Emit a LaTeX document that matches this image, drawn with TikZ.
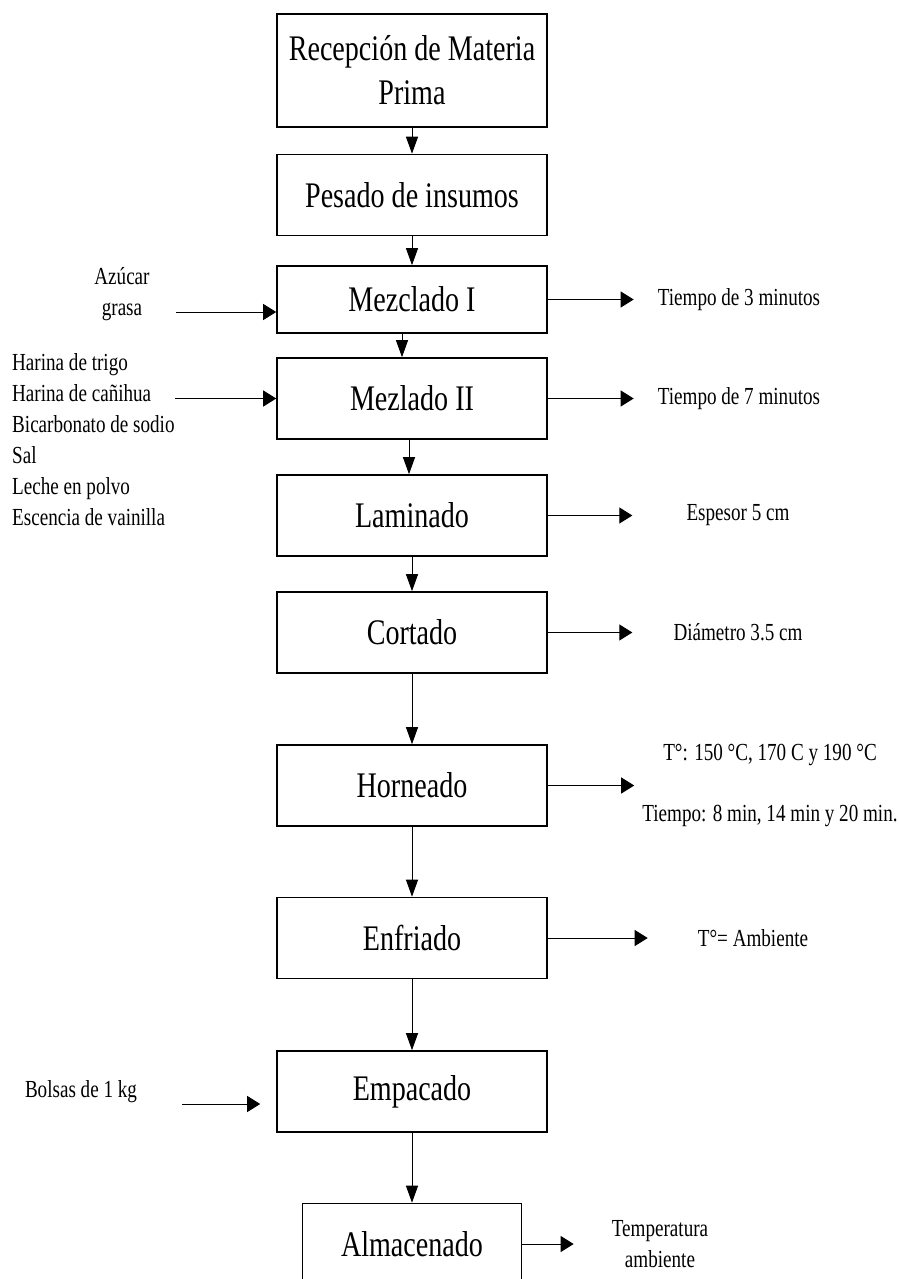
\documentclass[tikz,border=0pt]{standalone}
\usepackage{fontspec}
\setmainfont{Liberation Serif}[FakeStretch=0.78]
\usetikzlibrary{arrows.meta}

\tikzset{
  caja/.style={rectangle, draw, line width=1.6pt, minimum width=270pt, minimum height=81pt, inner sep=2pt, align=center, font=\fontsize{36}{44}\selectfont},
  nota/.style={align=center, inner sep=0pt, font=\fontsize{24.5}{31}\selectfont},
  flecha/.style={-{Triangle[length=17pt,width=12pt]}, line width=1pt},
  flecha-h/.style={-{Triangle[length=13pt,width=16pt]}, line width=1pt},
}

\begin{document}
\begin{tikzpicture}[x=1pt, y=-1pt]
  \useasboundingbox (0,0) rectangle (899,1279);

  % etapas del proceso
  \node(proc-1)[caja, minimum height=113pt] at (412,70.5) {Recepción de Materia\\Prima};
  \node(proc-2)[caja, node distance=124.5pt, below of=proc-1] {Pesado de insumos};
  \node(proc-3)[caja, minimum height=67pt, node distance=104.5pt, below of=proc-2] {Mezclado I};
  \node(proc-4)[caja, node distance=99pt, below of=proc-3] {Mezlado II};
  \node(proc-5)[caja, node distance=117pt, below of=proc-4] {Laminado};
  \node(proc-6)[caja, node distance=117pt, below of=proc-5] {Cortado};
  \node(proc-7)[caja, node distance=153pt, below of=proc-6] {Horneado};
  \node(proc-8)[caja, node distance=152.5pt, below of=proc-7] {Enfriado};
  \node(proc-9)[caja, node distance=153.5pt, below of=proc-8] {Empacado};
  \node(proc-10)[caja, minimum width=219pt, node distance=152.5pt, below of=proc-9] {Almacenado};

  % entradas
  \node(insumo-1)[nota] at (122,294) {Azúcar\\grasa};
  \node(insumo-2)[nota, align=left, anchor=west] at (12,440) {Harina de trigo\\Harina de cañihua\\Bicarbonato de sodio\\Sal\\Leche en polvo\\Escencia de vainilla};
  \node(insumo-3)[nota] at (81,1092) {Bolsas de 1 kg};
  \coordinate(in-1) at (176,312);
  \coordinate(in-3) at (182,1104);

  % datos de salida
  \node(dato-3)[nota, node distance=327pt, right of=proc-3] {Tiempo de 3 minutos};
  \node(dato-4)[nota, node distance=327pt, right of=proc-4] {Tiempo de 7 minutos};
  \node(dato-5)[nota, node distance=326pt, right of=proc-5] {Espesor 5 cm};
  \node(dato-6)[nota, node distance=326pt, right of=proc-6] {Diámetro 3.5 cm};
  \node(dato-7)[nota, node distance=358pt, right of=proc-7] {T°: 150 °C, 170 C y 190 °C\\[30pt]Tiempo: 8 min, 14 min y 20 min.};
  \node(dato-8)[nota, node distance=341pt, right of=proc-8] {T°= Ambiente};
  \node(dato-10)[nota, node distance=248pt, right of=proc-10] {Temperatura\\ambiente};

  \draw[flecha] (proc-1) -- (proc-2);
  \draw[flecha] (proc-2) -- (proc-3);
  \draw[flecha] ([xshift=-10pt]proc-3.south) -- ([xshift=-10pt]proc-4.north);
  \draw[flecha] ([xshift=-3pt]proc-4.south) -- ([xshift=-3pt]proc-5.north);
  \draw[flecha] (proc-5) -- (proc-6);
  \draw[flecha] (proc-6) -- (proc-7);
  \draw[flecha] (proc-7) -- (proc-8);
  \draw[flecha] (proc-8) -- (proc-9);
  \draw[flecha] (proc-9) -- (proc-10);

  \draw[flecha-h] (in-1) -- (in-1 -| proc-3.west);
  \draw[flecha-h] (insumo-2.east |- proc-4.west) -- (proc-4.west);
  \draw[flecha-h, shorten >=16pt] (in-3) -- (in-3 -| proc-9.west);

  \draw[flecha-h, shorten >=24pt] (proc-3) -- (dato-3);
  \draw[flecha-h, shorten >=24pt] (proc-4) -- (dato-4);
  \draw[flecha-h, shorten >=54pt] (proc-5) -- (dato-5);
  \draw[flecha-h, shorten >=41pt] (proc-6) -- (dato-6);
  \draw[flecha-h, shorten >=8pt] (proc-7) -- (dato-7);
  \draw[flecha-h, shorten >=50pt] (proc-8) -- (dato-8);
  \draw[flecha-h, shorten >=38pt] (proc-10) -- (dato-10);
\end{tikzpicture}
\end{document}
